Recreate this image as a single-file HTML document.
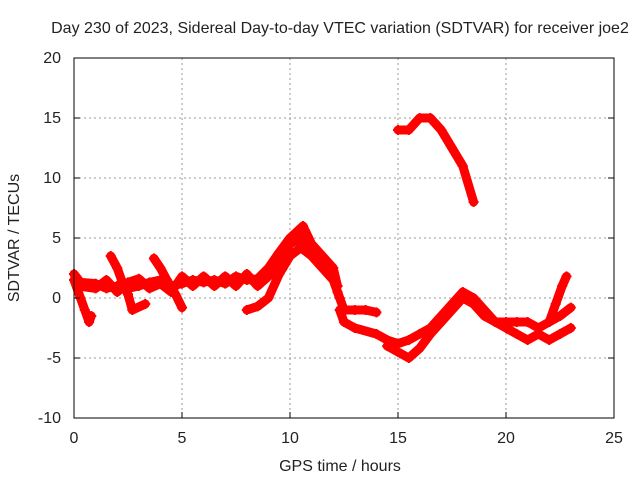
<!DOCTYPE html>
<html><head><meta charset="utf-8"><style>
body{margin:0;background:#fff}
svg text{font-family:"Liberation Sans",sans-serif;font-size:16px;fill:#222}
</style></head><body>
<svg id="chart" width="640" height="480" viewBox="0 0 640 480">
<rect width="640" height="480" fill="#fff"/>
<text x="340" y="33" text-anchor="middle">Day 230 of 2023, Sidereal Day-to-day VTEC variation (SDTVAR) for receiver joe2</text>
<g id="grid"></g><g id="series"></g><g id="axes"></g>
<text x="340" y="471" text-anchor="middle">GPS time / hours</text>
<text transform="translate(19,238) rotate(-90)" text-anchor="middle">SDTVAR / TECUs</text>
</svg>
<script>
const xTicks=[0,5,10,15,20,25];
const yTicks=[-10,-5,0,5,10,15,20];
const trackA=[[0,2],[0.3,1.3],[1,1.2],[1.5,0.8],[2,1],[2.5,0.8],[3,1],[3.5,1.3],[4,1.5],[4.5,1],[5,1.2],[5.5,1.5],[6,1.3],[6.5,1.5],[7,1.2],[7.5,1.8],[8,1.5],[8.5,1.6],[9,2.5],[9.5,3.8],[10,5],[10.3,5.5],[10.6,6],[11,4.5],[11.5,3.5],[12,2.5],[12.2,1]];
const trackA2=[[0.2,1],[1,0.8],[1.5,1.5],[2,0.5],[2.5,1.3],[3,1.6],[3.5,0.8],[4,1.2],[4.5,0.5],[5,1.8],[5.5,1],[6,1.8],[6.5,1],[7,1.8],[7.5,1],[8,2],[8.5,1],[9,1.8],[9.5,3],[10,4.5],[10.5,5],[11,4],[11.5,3]];
const trackB=[[0,1.5],[0.3,0],[0.5,-1],[0.7,-2],[0.8,-1.5]];
const trackC=[[1.7,3.5],[2,2.5],[2.3,1],[2.5,0.3],[2.7,-1],[3.3,-0.5]];
const trackD=[[3.7,3.3],[4,2.5],[4.3,1.5],[4.7,0.3],[5,-0.8]];
const trackE=[[8,-1],[8.5,-0.7],[9,0],[9.5,2],[10,3.5],[10.5,4.2],[11,3.5],[11.5,2.5],[12,1.5],[12.3,0]];
const trackF=[[12.2,0.5],[12.5,-1],[13,-1],[13.5,-1],[14,-1.2]];
const trackG=[[12.3,-1],[12.5,-2],[13,-2.5],[14,-3],[14.5,-3.5],[15,-3.8],[15.5,-3.5],[16,-3],[16.5,-2.5],[17,-1.5],[17.5,-0.5],[18,0.5],[18.5,0],[19,-1],[19.5,-2],[20,-2.5],[20.5,-3],[21,-3.5],[21.5,-3],[22,-3.5],[22.5,-3],[23,-2.5]];
const trackH=[[14.5,-4],[15,-4.5],[15.5,-5],[16,-4.2],[16.5,-3],[17,-2],[17.5,-1],[18,0],[18.5,-0.5],[19,-1.5],[19.5,-2],[20,-2],[20.5,-2],[21,-2],[21.5,-2.5],[22,-2],[22.5,-1.5],[23,-0.8]];
const trackI=[[22,-2],[22.3,-0.5],[22.6,1],[22.8,1.8]];
const trackJ=[[15,14],[15.5,14],[16,15],[16.5,15],[17,14],[17.5,12.5],[18,11],[18.5,8]];
const tracks=[trackA,trackA2,trackB,trackC,trackD,trackE,trackF,trackG,trackH,trackI,trackJ];
const X0=74,X1=614,Y0=418,Y1=58;
const sx=t=>X0+(t-0)/(25-0)*(X1-X0);
const sy=v=>Y0-(v+10)/(30)*(Y0-Y1);
const NS="http://www.w3.org/2000/svg";
function mk(tag,attrs,parent){const e=document.createElementNS(NS,tag);for(const k in attrs)e.setAttribute(k,attrs[k]);parent.appendChild(e);return e;}
const grid=document.getElementById('grid'),axes=document.getElementById('axes'),ser=document.getElementById('series');
xTicks.forEach(t=>{
  if(t>0&&t<25){const l=mk('line',{x1:sx(t),x2:sx(t),y1:Y1,y2:Y0,stroke:'#999','stroke-dasharray':'2,3'},grid);
  
  }
  const tk=mk('line',{x1:sx(t),x2:sx(t),y1:Y0,y2:Y0-6,stroke:'#000'},axes);
  
  
  const tx=mk('text',{x:sx(t),y:443,'text-anchor':'middle'},axes);tx.textContent=t;
  
  
});
yTicks.forEach(v=>{
  if(v>-10&&v<20){const l=mk('line',{x1:X0,x2:X1,y1:sy(v),y2:sy(v),stroke:'#999','stroke-dasharray':'2,3'},grid);
  
  }
  const tk=mk('line',{x1:X0,x2:X0+6,y1:sy(v),y2:sy(v),stroke:'#000'},axes);
  
  
  const tk2=mk('line',{x1:X1,x2:X1-6,y1:sy(v),y2:sy(v),stroke:'#000'},axes);
  
  
  const tx=mk('text',{x:61,y:sy(v)+5,'text-anchor':'end'},axes);tx.textContent=v;
  
  
});
const fr=mk('rect',{x:X0,y:Y1,width:X1-X0,height:Y0-Y1,fill:'none',stroke:'#000'},axes);


tracks.forEach(tr=>{
  const pl=mk('polyline',{points:tr.map(p=>sx(p[0])+','+sy(p[1])).join(' '),fill:'none',stroke:'#f00','stroke-width':9,'stroke-linejoin':'round','stroke-linecap':'round'},ser);
  
  
  tr.forEach(p=>{
    const x=sx(p[0]),y=sy(p[1]);
    const m=mk('path',{d:`M${x-5},${y}H${x+5}M${x},${y-5}V${y+5}`,stroke:'#f00','stroke-width':2},ser);
    
    
  });
});
</script>
</body></html>
